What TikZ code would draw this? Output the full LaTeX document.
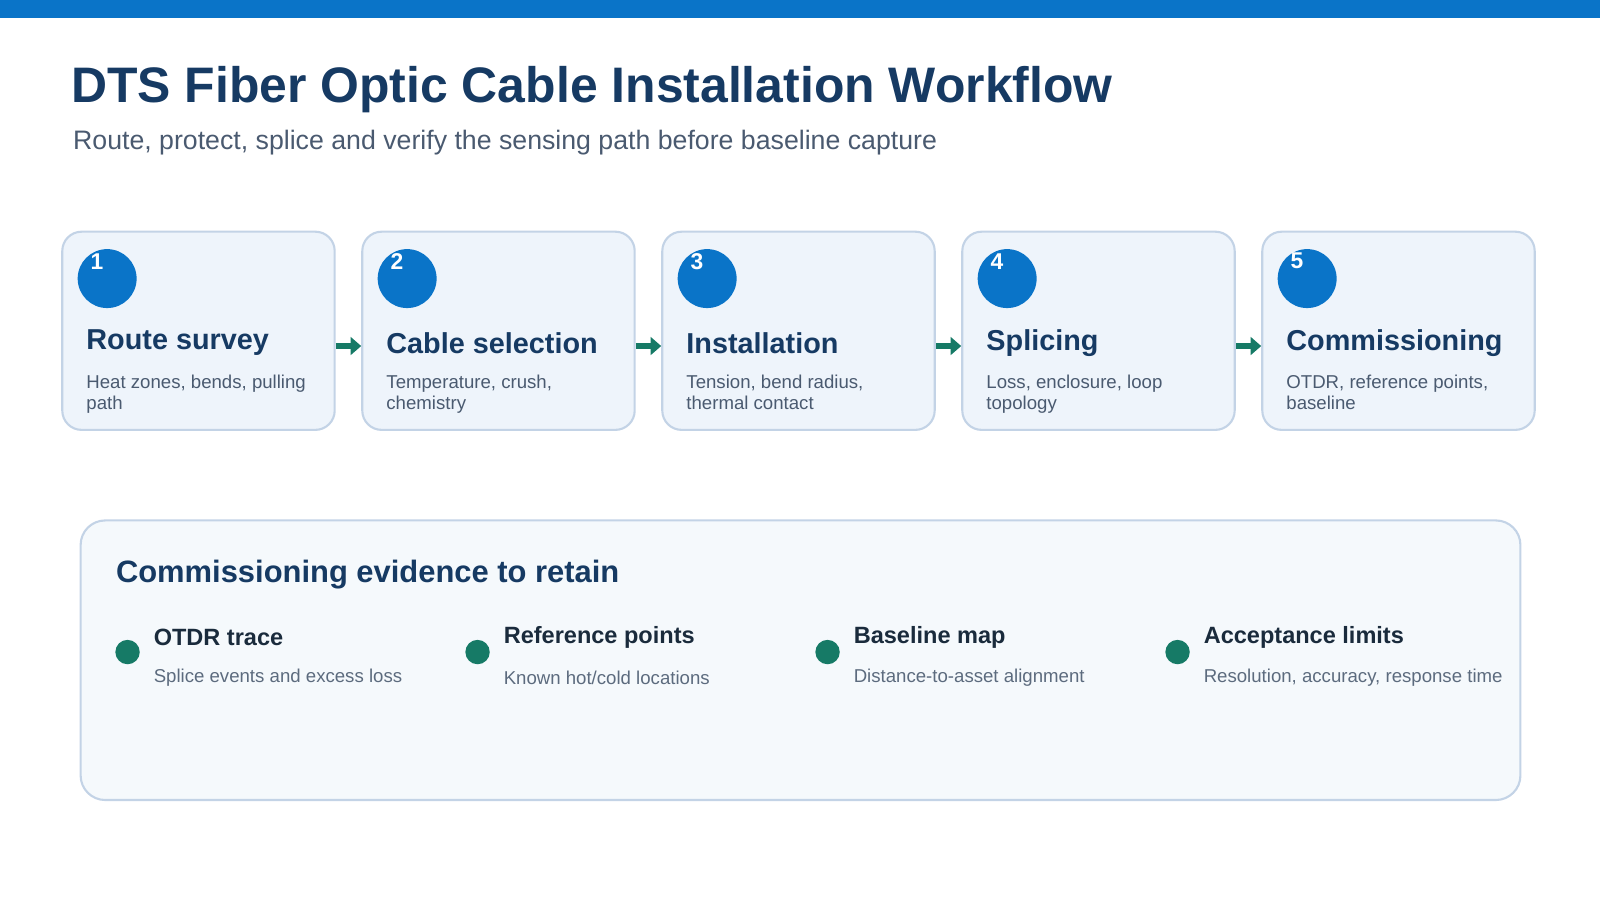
\documentclass[tikz,border=0pt]{standalone}
\usepackage{fontspec}
\setmainfont{Liberation Sans}
\usetikzlibrary{positioning,arrows.meta}
\definecolor{Brand}{HTML}{0A74C8}
\definecolor{Ink}{HTML}{163A63}
\definecolor{Muted}{HTML}{4A5A70}
\definecolor{CardFill}{HTML}{EEF4FB}
\definecolor{CardLine}{HTML}{C3D3E6}
\definecolor{PanelFill}{HTML}{F5F9FC}
\definecolor{Teal}{HTML}{167A66}
\definecolor{Dark}{HTML}{1A2B3C}
\begin{document}
\begin{tikzpicture}[x=0.010204cm, y=-0.010204cm,
card/.style = {draw=CardLine, fill=CardFill, rounded corners=5.5pt, line width=0.6pt, minimum width=268pt*0.2893, minimum height=195pt*0.2893, anchor=north west, inner sep=0pt},
badge/.style = {circle, fill=Brand, minimum size=58*0.2893pt, inner sep=0pt},
num/.style = {text=white, font=\fontsize{6.5}{7}\selectfont\bfseries},
stage/.style = {anchor=west, text=Ink, font=\fontsize{8.2}{9}\selectfont\bfseries, inner sep=0pt},
desc/.style = {anchor=north west, text=Muted, font=\fontsize{5.3}{5.9}\selectfont, align=left, inner sep=0pt},
flow/.style = {draw=Teal, line width=1.5pt, -{Triangle[length=3pt,width=5pt]}},
dot/.style = {circle, fill=Teal, minimum size=24*0.2893pt, inner sep=0pt},
item/.style = {anchor=west, text=Dark, font=\fontsize{6.7}{7}\selectfont\bfseries, inner sep=0pt},
note/.style = {anchor=west, text=Muted!90, font=\fontsize{5.3}{6}\selectfont, inner sep=0pt}]
\useasboundingbox (0,0) rectangle (1568,882);
\fill[Brand] (0,0) rectangle (1568,18);
\node[anchor=west, inner sep=0pt, text=Ink, font=\fontsize{14.2}{16}\selectfont\bfseries] (title) at (69,88) {DTS Fiber Optic Cable Installation Workflow};
\node[anchor=west, inner sep=0pt, text=Muted, font=\fontsize{7.6}{9}\selectfont] (sub) at (71,140) {Route, protect, splice and verify the sensing path before baseline capture};
\foreach \i/\x/\name/\la/\lb in {1/60/Route survey/{Heat zones, bends, pulling}/path,
2/354/Cable selection/{Temperature, crush,}/chemistry,
3/648/Installation/{Tension, bend radius,}/thermal contact,
4/942/Splicing/{Loss, enclosure, loop}/topology,
5/1236/Commissioning/{OTDR, reference points,}/baseline}{
\node[card] (b\i) at (\x,226) {};
\node[badge] (c\i) at (\x+45,273) {};
\node[num] (n\i) at (\x+35,256) {\i};
\node[stage] (s\i) at (\x+24,336) {\name};
\node[desc] (d\i) at (\x+24,367) {\la\\\lb};
}
\foreach \i/\j in {1/2,2/3,3/4,4/5}
\draw[flow] ([yshift=-15pt*0.2893]b\i.east) -- ([yshift=-15pt*0.2893]b\j.west);
\draw[draw=CardLine, fill=PanelFill, rounded corners=7pt, line width=0.6pt] (79,510) rectangle (1490,784);
\node[anchor=west, inner sep=0pt, text=Ink, font=\fontsize{8.8}{10}\selectfont\bfseries] (head) at (113,563) {Commissioning evidence to retain};
\foreach \k/\x/\a/\b in {1/125/OTDR trace/Splice events and excess loss,
2/468/Reference points/Known hot\slash cold locations,
3/811/Baseline map/Distance-to-asset alignment,
4/1154/Acceptance limits/{Resolution, accuracy, response time}}{
\node[dot] (p\k) at (\x,639) {};
\node[item] (t\k) at (\x+25,625) {\a};
\node[note] (e\k) at (\x+25,664) {\b};
}
\end{tikzpicture}
\end{document}
